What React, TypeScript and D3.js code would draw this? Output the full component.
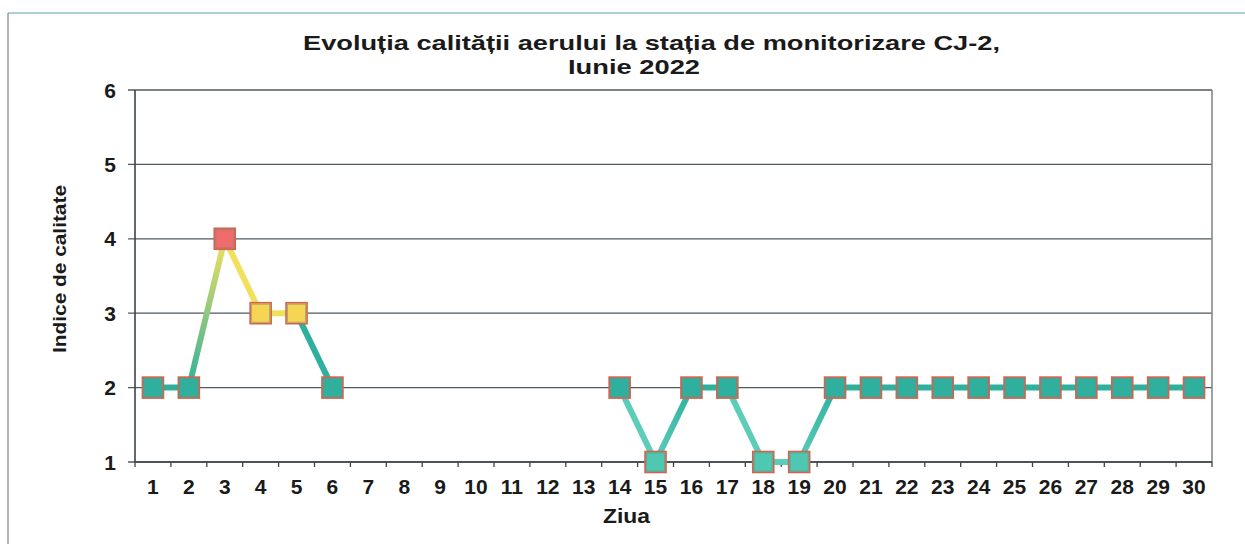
import React from "react";
import * as d3 from "d3";

const days = d3.range(1, 31).map(String);
const indexValues: (number | null)[] = [
  2, 2, 4, 3, 3, 2, null, null, null, null, null, null, null,
  2, 1, 2, 2, 1, 1, 2, 2, 2, 2, 2, 2, 2, 2, 2, 2, 2,
];
const yTicks = [1, 2, 3, 4, 5, 6];
const titleLines = ["Evoluția calității aerului la stația de monitorizare CJ-2,", "Iunie  2022"];

const W = 1245;
const H = 544;
const margin = { top: 90, right: 33, bottom: 82, left: 135 };

// marker fill per index value
const markerColor = (v: number) =>
  v >= 4 ? "#f06b6b" : v >= 3 ? "#f6d552" : v >= 2 ? "#2fb09e" : "#4fc8b2";
// line colour per index value
const lineColor = (v: number) =>
  v >= 3 ? "#f1e05e" : v >= 2 ? "#2fb09e" : "#5ccdb9";

const font = "'Liberation Sans', Arial, sans-serif";

const App = () => {
  const x = d3
    .scaleBand()
    .domain(days)
    .range([margin.left, W - margin.right])
    .paddingInner(0)
    .paddingOuter(0);
  const y = d3
    .scaleLinear()
    .domain([1, 6])
    .range([H - margin.bottom, margin.top]);

  const cx = (i: number) => (x(days[i]) as number) + x.bandwidth() / 2;

  const segments: { i: number; a: number; b: number }[] = [];
  indexValues.forEach((v, i) => {
    const n = indexValues[i + 1];
    if (v != null && n != null && i + 1 < indexValues.length) segments.push({ i, a: v, b: n });
  });

  const boundaries = d3.range(0, days.length + 1).map((k) => margin.left + k * x.bandwidth());
  const plotLeft = margin.left;
  const plotRight = W - margin.right;
  const plotBottom = H - margin.bottom;
  const ms = 21;

  return (
    <svg
      width={W}
      height={H}
      style={{ position: "absolute", left: 0, top: 0, background: "#fff" }}
      fontFamily={font}
    >
      <defs>
        {segments.map((s) => (
          <linearGradient
            key={s.i}
            id={`seg${s.i}`}
            gradientUnits="userSpaceOnUse"
            x1={cx(s.i)}
            y1={y(s.a)}
            x2={cx(s.i + 1)}
            y2={y(s.b)}
          >
            <stop offset="0%" stopColor={s.b > s.a ? lineColor(s.a) : lineColor(s.b)} />
            <stop offset="100%" stopColor={lineColor(s.b)} />
          </linearGradient>
        ))}
      </defs>

      {/* outer frame */}
      <line x1={8} y1={13} x2={W} y2={13} stroke="#8fbfcc" strokeWidth={1.5} />
      <line x1={8} y1={13} x2={8} y2={H} stroke="#9a9a9a" strokeWidth={1.5} />

      {/* title */}
      <text x={303} y={50} fontSize={21} fontWeight="bold" fill="#1a1a1a" textLength={697} lengthAdjust="spacingAndGlyphs">
        {titleLines[0]}
      </text>
      <text x={568} y={74} fontSize={21} fontWeight="bold" fill="#1a1a1a" textLength={132} lengthAdjust="spacingAndGlyphs">
        {titleLines[1]}
      </text>

      {/* gridlines */}
      {yTicks.map((t) => (
        <line
          key={t}
          x1={plotLeft - 7}
          x2={plotRight}
          y1={y(t)}
          y2={y(t)}
          stroke="#4f5a60"
          strokeWidth={1.3}
        />
      ))}
      <line x1={plotRight} x2={plotRight} y1={y(6)} y2={plotBottom} stroke="#808080" strokeWidth={1.5} />
      <line x1={plotLeft} x2={plotLeft} y1={y(6)} y2={plotBottom} stroke="#3c4448" strokeWidth={1.6} />
      <line x1={plotLeft} x2={plotRight} y1={plotBottom} y2={plotBottom} stroke="#3c4448" strokeWidth={1.6} />
      {boundaries.map((bx, k) => (
        <line key={k} x1={bx} x2={bx} y1={plotBottom} y2={plotBottom + 5} stroke="#3c4448" strokeWidth={1.3} />
      ))}

      {/* y tick labels */}
      {yTicks.map((t) => (
        <text
          key={t}
          x={116}
          y={y(t)}
          dy="0.36em"
          textAnchor="end"
          fontSize={21}
          fontWeight="bold"
          fill="#1a1a1a"
        >
          {t}
        </text>
      ))}

      {/* x tick labels */}
      {days.map((d, i) => (
        <text
          key={d}
          x={cx(i)}
          y={494}
          textAnchor="middle"
          fontSize={21}
          fontWeight="bold"
          fill="#1a1a1a"
        >
          {d}
        </text>
      ))}

      {/* axis titles */}
      <text x={603} y={523} fontSize={20} fontWeight="bold" fill="#1a1a1a" textLength={47} lengthAdjust="spacingAndGlyphs">
        Ziua
      </text>
      <text
        transform={`translate(66, ${353}) rotate(-90)`}
        fontSize={18}
        fontWeight="bold"
        fill="#1a1a1a"
        textLength={168}
        lengthAdjust="spacingAndGlyphs"
      >
        Indice de calitate
      </text>

      {/* line segments */}
      {segments.map((s) => (
        <line
          key={s.i}
          x1={cx(s.i)}
          y1={y(s.a)}
          x2={cx(s.i + 1)}
          y2={y(s.b)}
          stroke={`url(#seg${s.i})`}
          strokeWidth={6}
        />
      ))}

      {/* markers */}
      {indexValues.map((v, i) =>
        v == null ? null : (
          <g key={i}>
            <rect
              x={cx(i) - ms / 2}
              y={y(v) - ms / 2}
              width={ms}
              height={ms}
              fill={markerColor(v)}
              stroke="#d0654e"
              strokeWidth={1.6}
            />
            <rect
              x={cx(i) - ms / 2 + 1.5}
              y={y(v) - ms / 2 + 1.5}
              width={ms - 3}
              height={ms - 3}
              fill="none"
              stroke="#7a8a84"
              strokeWidth={0.8}
              opacity={0.7}
            />
          </g>
        )
      )}
    </svg>
  );
};

export default App;
